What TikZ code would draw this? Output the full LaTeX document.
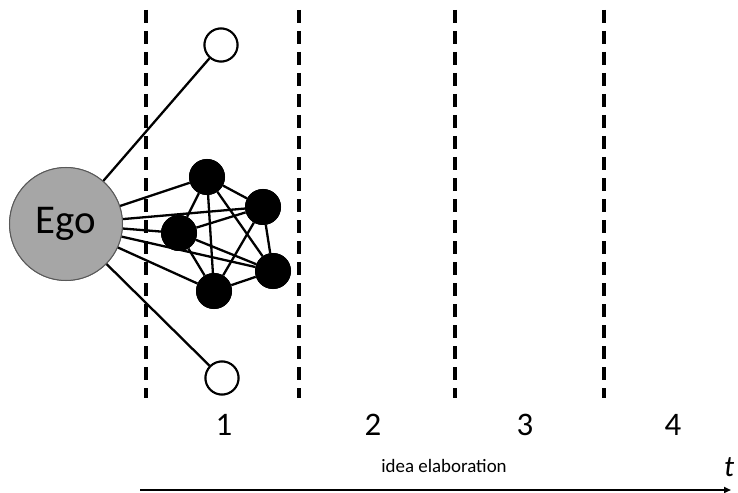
\documentclass[tikz,border=0pt]{standalone}
\usepackage{fontspec}
\setmainfont{Carlito}
\usetikzlibrary{arrows.meta}
\begin{document}
\begin{tikzpicture}[x=1bp,y=-1bp,
  ego/.style={circle,draw=black!65,line width=1bp,fill=black!35,minimum size=113bp,inner sep=0pt,font=\fontsize{41}{45}\selectfont},
  tie/.style={circle,fill=black,minimum size=36bp,inner sep=0pt},
  loose/.style={circle,draw=black,line width=2bp,fill=white,minimum size=33bp,inner sep=0pt},
  edge/.style={line width=2.3bp},
  phase/.style={line width=3.4bp,dash pattern=on 13bp off 8bp},
  period/.style={font=\fontsize{33}{36}\selectfont},
]
\useasboundingbox (0,0) rectangle (738,493);

% phase boundaries
\foreach \x/\n in {146/d1,299/d2,455/d3,604/d4}{
  \coordinate (\n top) at (\x,10);
  \coordinate (\n bot) at (\x,398);
  \draw[phase] (\n top) -- (\n bot);
}

% nodes
\node[ego] (ego) at (66,224) {Ego};
\node[loose] (up) at (221,45) {};
\node[loose] (down) at (222,378) {};
\node[tie] (a) at (207,177) {};
\node[tie] (b) at (263,207) {};
\node[tie] (c) at (179,233) {};
\node[tie] (d) at (273,271) {};
\node[tie] (e) at (214,291) {};

% connectors
\foreach \t in {up,down,a,b,c,d,e}
  \draw[edge] (ego) -- (\t);
\foreach \p/\q in {a/b,a/c,a/d,a/e,b/c,b/d,b/e,c/d,c/e,d/e}
  \draw[edge] (\p) -- (\q);

% redraw nodes on top of connectors
\node[ego] at (ego) {Ego};
\node[loose] at (up) {};
\node[loose] at (down) {};
\foreach \n in {a,b,c,d,e} \node[tie] at (\n) {};

% period labels
\node[period] (p1) at (224,425) {1};
\node[period] (p2) at (373,425) {2};
\node[period] (p3) at (525,425) {3};
\node[period] (p4) at (673,425) {4};

% time axis
\coordinate (axstart) at (140,490);
\coordinate (axend) at (731,490);
\draw[line width=2bp,-{Triangle[length=7bp,width=6bp]}] (axstart) -- (axend);
\node[font=\fontsize{19}{22}\selectfont] (lab) at (444,466) {idea elaboration};
\node[font=\fontsize{30}{32}\selectfont\itshape] (t) at (729,467) {t};
\end{tikzpicture}
\end{document}
